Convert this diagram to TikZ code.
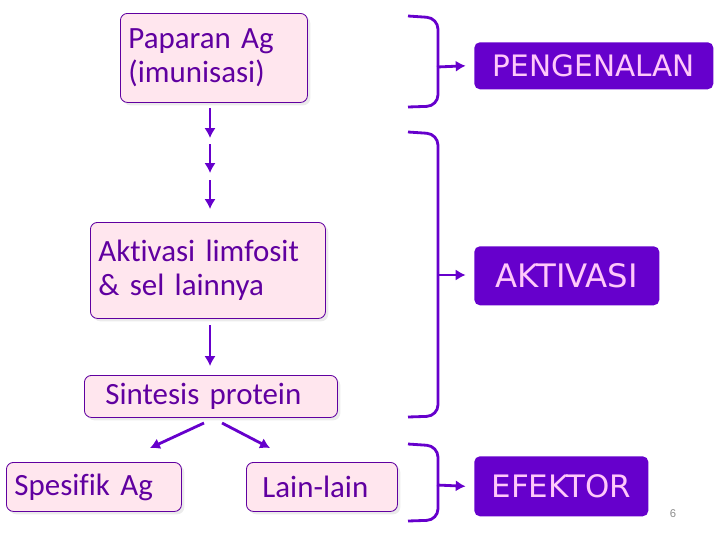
\documentclass[tikz,border=0pt]{standalone}
\usepackage{fontspec}
\setmainfont{Carlito}[Ligatures=NoCommon]
\newfontfamily\tahapfont{DejaVu Sans}
\newfontfamily\nomorfont{Liberation Sans}
\usetikzlibrary{arrows.meta, positioning, shadows}
\definecolor{ungu}{RGB}{96,0,160}
\definecolor{ungumuda}{RGB}{102,0,204}
\definecolor{merahmuda}{RGB}{255,230,238}
\definecolor{pinkteks}{RGB}{255,200,250}

\begin{document}
\begin{tikzpicture}[x=0.025cm, y=-0.025cm, >={Latex[length=7pt,width=8pt]},
    flow/.style={->, line width=2pt, draw=ungumuda},
    kotak/.style={draw=ungu, fill=merahmuda, rounded corners=5pt, line width=0.6pt,
        text=ungu, font=\fontsize{22}{24}\selectfont, align=left, anchor=north west,
        inner xsep=0.2cm, inner ysep=0pt,
        drop shadow={shadow xshift=2pt, shadow yshift=-2pt, fill=black!8, opacity=1}},
    tahap/.style={fill=ungumuda, rounded corners=4pt, text=pinkteks, anchor=north west, inner sep=0pt},
    kurung/.style={draw=ungumuda, line width=2pt, rounded corners=8pt}]
    \useasboundingbox (0,0) rectangle (720,540);

    % kotak alur kiri
    \node[kotak, text width=4.275cm, minimum height=2.225cm] (paparan) at (120,13) {Paparan Ag\\(imunisasi)};
    \node[kotak, text width=5.475cm, minimum height=2.4cm] (aktivasi) at (90,222) {Aktivasi limfosit\\\& sel lainnya};
    \node[kotak, inner xsep=0.525cm, text width=5.275cm, minimum height=1.05cm] (sintesis) at (84,375) {Sintesis protein};
    \node[kotak, text width=3.975cm, minimum height=1.225cm] (spesifik) at (6,462) {Spesifik Ag};
    \node[kotak, inner xsep=0.4cm, text width=2.975cm, minimum height=1.225cm] (lain) at (246,462) {Lain-lain};

    % tahap kanan
    \node[tahap, minimum width=5.975cm, minimum height=1.175cm, font=\tahapfont\fontsize{21}{24}\selectfont] (pengenalan) at (474,42) {PENGENALAN};
    \node[tahap, minimum width=4.625cm, minimum height=1.475cm, font=\tahapfont\fontsize{23}{26}\selectfont] (tahapaktivasi) at (474,246) {AKTIVASI};
    \node[tahap, minimum width=4.35cm, minimum height=1.5cm, font=\tahapfont\fontsize{22}{26}\selectfont] (efektor) at (474,456) {EFEKTOR};

    % panah ke bawah
    \coordinate (d1) at (210,108);
    \coordinate (d2) at (210,138);
    \coordinate (d3) at (210,144);
    \coordinate (d4) at (210,173);
    \coordinate (d5) at (210,180);
    \coordinate (d6) at (210,209);
    \draw[flow] (d1) -- (d2);
    \draw[flow] (d3) -- (d4);
    \draw[flow] (d5) -- (d6);
    \coordinate (d7) at (210,325);
    \coordinate (d8) at (210,366);
    \draw[flow] (d7) -- (d8);

    % cabang sintesis
    \coordinate (c1) at (204,423);
    \coordinate (c2) at (150,448);
    \coordinate (c3) at (222,423);
    \coordinate (c4) at (270,448);
    \draw[flow] (c1) -- (c2);
    \draw[flow] (c3) -- (c4);

    % kurung
    \draw[kurung] (408,16) -- (438,18) -- (438,106) -- (408,107);
    \draw[kurung] (408,132) -- (438,134) -- (438,416) -- (408,417);
    \draw[kurung] (408,444) -- (438,446) -- (438,520) -- (408,521);
    \coordinate (k1) at (437,67);
    \coordinate (k2) at (437,275);
    \coordinate (k3) at (437,485);
    \draw[flow] (k1) -- ([xshift=-6pt]pengenalan.west);
    \draw[flow] (k2) -- ([xshift=-6pt]tahapaktivasi.west|-k2);
    \draw[flow] (k3) -- ([xshift=-6pt]efektor.west);

    \node[font=\nomorfont\fontsize{8}{9}\selectfont, text=black!45] (halaman) at (673,514) {6};
\end{tikzpicture}
\end{document}
